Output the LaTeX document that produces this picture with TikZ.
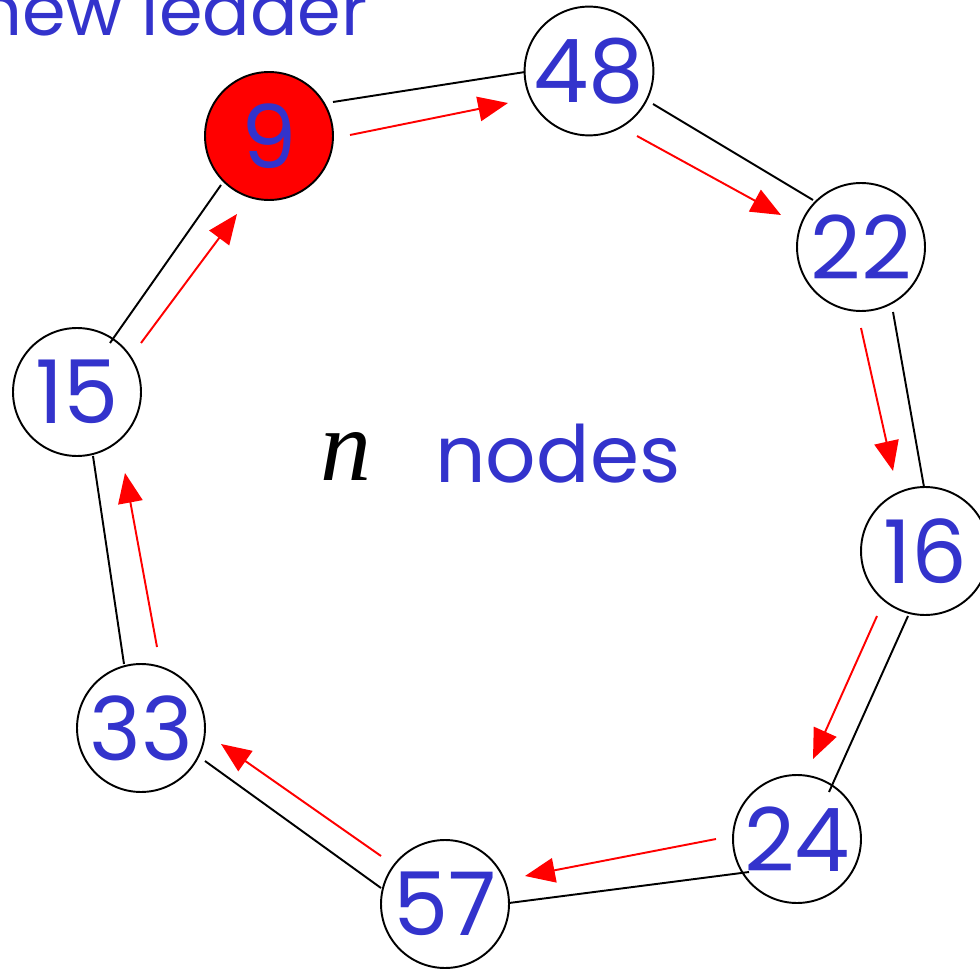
\documentclass[tikz,border=0pt]{standalone}
\usepackage{fontspec}
\setmainfont{Poppins}
\newfontfamily\varfont{Liberation Serif}
\usetikzlibrary{calc,arrows.meta}
\definecolor{numblue}{RGB}{51,51,204}
\definecolor{leaderred}{RGB}{255,0,0}
\tikzset{
  ringnode/.style={circle,draw=black,line width=1.1pt,minimum size=2.56cm,inner sep=0pt,
    text=numblue,font=\fontsize{50}{50}\selectfont},
  link/.style={draw=black,line width=1.1pt},
  msg/.style={draw=leaderred,line width=1.1pt,-{Triangle[length=17pt,width=14pt]}}
}
\begin{document}
\begin{tikzpicture}[x=0.02cm,y=0.02cm]
\useasboundingbox (0,0) rectangle (980,-969);
\node[ringnode,fill=leaderred] (n9)  at (269,-136) {9};
\node[ringnode] (n48) at (589,-71)  {48};
\node[ringnode] (n22) at (861,-247) {22};
\node[ringnode] (n16) at (925,-551) {16};
\node[ringnode] (n24) at (797,-839) {24};
\node[ringnode] (n57) at (445,-904) {57};
\node[ringnode] (n33) at (141,-728) {33};
\node[ringnode] (n15) at (77,-392)  {15};
% links
\draw[link] ($(n9)+(64,34)$)   -- ($(n48)+(-64,-1)$);
\draw[link] ($(n48)+(64,-33)$) -- ($(n22)+(-48,47)$);
\draw[link] ($(n22)+(32,-65)$) -- ($(n16)+(-1,64)$);
\draw[link] ($(n16)+(-17,-65)$) -- ($(n24)+(32,47)$);
\draw[link] ($(n24)+(-48,-33)$) -- ($(n57)+(64,1)$);
\draw[link] ($(n57)+(-64,16)$) -- ($(n33)+(64,-33)$);
\draw[link] ($(n33)+(-17,64)$) -- ($(n15)+(16,-64)$);
\draw[link] ($(n15)+(33,49)$) -- ($(n9)+(-48,-49)$);
% messages
\draw[msg] ($(n9)+(81,1)$)    -- ($(n48)+(-81,-32)$);
\draw[msg] ($(n48)+(48,-65)$) -- ($(n22)+(-80,32)$);
\draw[msg] ($(n22)+(0,-81)$)  -- ($(n16)+(-32,80)$);
\draw[msg] ($(n16)+(-48,-65)$) -- ($(n24)+(16,80)$);
\draw[msg] ($(n24)+(-81,0)$)  -- ($(n57)+(80,28)$);
\draw[msg] ($(n57)+(-64,48)$) -- ($(n33)+(80,-16)$);
\draw[msg] ($(n33)+(16,81)$)  -- ($(n15)+(48,-81)$);
\draw[msg] ($(n15)+(64,49)$)  -- ($(n9)+(-32,-78)$);
% labels
\node[anchor=base east,text=numblue,font=\fontsize{40}{40}\selectfont,inner sep=0pt] (title) at (368,-36) {new leader};
\node[anchor=base,inner sep=0pt,font=\fontsize{58}{58}\selectfont\varfont\itshape] (nvar) at (346,-480) {n};
\node[anchor=base west,text=numblue,font=\fontsize{45}{45}\selectfont,inner sep=0pt] (nodes) at (435,-482) {nodes};
\end{tikzpicture}
\end{document}
